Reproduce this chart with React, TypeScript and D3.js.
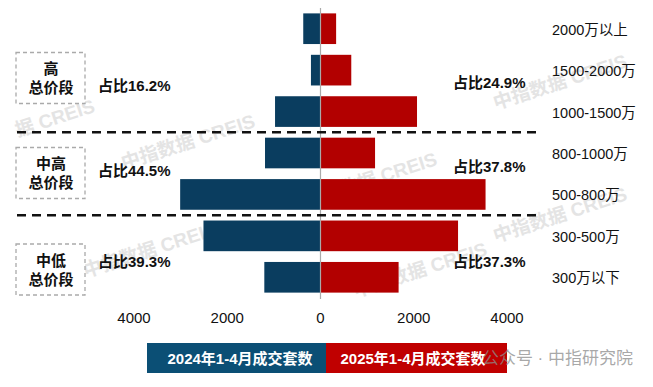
import React from 'react';
import * as d3 from 'd3';

const categories = ['2000万以上', '1500-2000万', '1000-1500万', '800-1000万', '500-800万', '300-500万', '300万以下'];
const values2024 = [370, 205, 975, 1190, 3010, 2510, 1205];
const values2025 = [335, 660, 2070, 1170, 3540, 2950, 1675];
const tickValues = [-4000, -2000, 0, 2000, 4000];
const seriesNames = ['2024年1-4月成交套数', '2025年1-4月成交套数'];
const groupTitles = [['高', '总价段'], ['中高', '总价段'], ['中低', '总价段']];
const shares2024 = ['占比16.2%', '占比44.5%', '占比39.3%'];
const shares2025 = ['占比24.9%', '占比37.8%', '占比37.3%'];

const W = 653;
const H = 387;
const BLUE = '#0a3d5f';
const RED = '#b20000';
const FONT = '"Liberation Sans", Arial, "Noto Sans CJK SC", sans-serif';

// layout (pixel positions of the group annotations)
const boxCenters = [78, 173, 269.5];
const leftLabelY = [85, 170, 261];
const rightLabelY = [82, 166, 261];

export default function App() {
  const x = d3.scaleLinear().domain([-4000, 4000]).range([134, 507]);
  const y = d3.scaleBand<string>().domain(categories).range([8, 298]).paddingInner(0.26).paddingOuter(0.13);
  const bw = y.bandwidth();
  const step = y.step();

  const watermarks = [
    { x: 188, y: 142, t: '中指数据 CREIS' },
    { x: 560, y: 82, t: '中指数据 CREIS' },
    { x: 370, y: 180, t: '中指数据 CREIS' },
    { x: 55, y: 118, t: '据 CREIS' },
    { x: 150, y: 250, t: '中指数据 CREIS' },
    { x: 560, y: 215, t: '中指数据 CREIS' },
    { x: 420, y: 270, t: '中指数据 CREIS' },
  ];

  return (
    <svg width={W} height={H} style={{ position: 'fixed', left: 0, top: 0, background: '#fff' }} fontFamily={FONT}>
      <rect x={0} y={0} width={W} height={H} fill="#fff" />
      {watermarks.map((w, i) => (
        <text key={'wm' + i} x={w.x} y={w.y} textAnchor="middle" dominantBaseline="central"
          fontSize={19} fontWeight="bold" fill="#e4e4e4" transform={`rotate(-18 ${w.x} ${w.y})`}>
          {w.t}
        </text>
      ))}
      {categories.map((c, i) => (
        <g key={c}>
          <rect x={x(-values2024[i])} y={y(c)} width={x(0) - x(-values2024[i])} height={bw} fill={BLUE} />
          <rect x={x(0)} y={y(c)} width={x(values2025[i]) - x(0)} height={bw} fill={RED} />
          <text x={552} y={(y(c) as number) + bw / 2 + 1} dominantBaseline="central" fontSize={14.5} fill="#111">
            {c}
          </text>
        </g>
      ))}
      <line x1={x(0)} x2={x(0)} y1={8} y2={299} stroke="#aaa" strokeWidth={1.2} />
      {[3, 5].map((i) => {
        const yy = (y(categories[i]) as number) - (step - bw) / 2;
        return (
          <line key={'d' + i} x1={17} x2={538} y1={yy} y2={yy} stroke="#111" strokeWidth={2.5} strokeDasharray="9,6" />
        );
      })}
      {groupTitles.map((g, gi) => {
        const cy = boxCenters[gi];
        return (
          <g key={'g' + gi}>
            <rect x={16} y={cy - 25.5} width={69} height={51} fill="#fff" stroke="#aaa" strokeWidth={1.3} strokeDasharray="4,3" />
            <text x={51} y={cy - 9.5} textAnchor="middle" dominantBaseline="central" fontSize={15} fontWeight="bold" fill="#111">
              {g[0]}
            </text>
            <text x={51} y={cy + 9.5} textAnchor="middle" dominantBaseline="central" fontSize={15} fontWeight="bold" fill="#111">
              {g[1]}
            </text>
            <text x={98} y={leftLabelY[gi]} dominantBaseline="central" fontSize={15} fontWeight="bold" fill="#111">
              {shares2024[gi]}
            </text>
            <text x={453} y={rightLabelY[gi]} dominantBaseline="central" fontSize={15} fontWeight="bold" fill="#111">
              {shares2025[gi]}
            </text>
          </g>
        );
      })}
      {tickValues.map((t) => (
        <text key={'t' + t} x={x(t)} y={317} textAnchor="middle" dominantBaseline="central" fontSize={15} fill="#111">
          {Math.abs(t)}
        </text>
      ))}
      <rect x={147} y={343} width={179} height={30} fill="#0b4f75" />
      <rect x={326} y={343} width={181} height={30} fill="#c00000" />
      <text x={240} y={358.5} textAnchor="middle" dominantBaseline="central" fontSize={15} fontWeight="bold" fill="#fff">
        {seriesNames[0]}
      </text>
      <text x={413} y={358.5} textAnchor="middle" dominantBaseline="central" fontSize={15} fontWeight="bold" fill="#fff">
        {seriesNames[1]}
      </text>
      <text x={633} y={358} textAnchor="end" dominantBaseline="central" fontSize={17} fill="rgba(140,140,140,0.75)">
        公众号 · 中指研究院
      </text>
    </svg>
  );
}
